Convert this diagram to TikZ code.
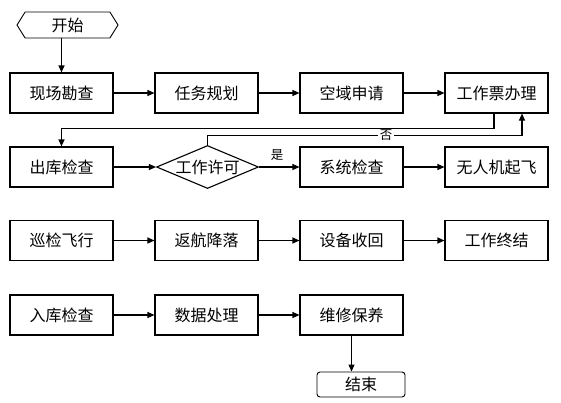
\documentclass[tikz,border=0pt]{standalone}
\usepackage{fontspec}
\setmainfont{Noto Sans CJK SC}
\usetikzlibrary{shapes.geometric,shapes.symbols,arrows.meta}

\begin{document}
\begin{tikzpicture}[x=1pt,y=-1pt,line width=1.1pt,>={Triangle[length=7pt,width=6pt]},
   box/.style={draw,minimum width=103pt,minimum height=40pt,inner sep=0pt,font=\fontsize{16}{18}\selectfont},
   judge/.style={draw,diamond,aspect=2.35,minimum width=102pt,minimum height=43pt,inner sep=0pt,font=\fontsize{16}{18}\selectfont},
   startbox/.style={draw,signal,signal to=west and east,signal pointer angle=116,minimum width=101pt,minimum height=26pt,inner sep=0pt,line width=0.9pt,font=\fontsize{16}{18}\selectfont},
   endbox/.style={draw,rounded corners=3pt,minimum width=88pt,minimum height=25pt,inner sep=0pt,line width=0.9pt,font=\fontsize{16}{18}\selectfont},
   lbl/.style={font=\fontsize{12.5}{14}\selectfont,inner sep=1.5pt}]
   \useasboundingbox (0,0) rectangle (561,402);
   \node[startbox] (start) at (67.5,25) {开始};
   \node[box] (b11) at (61.5,93) {现场勘查};
   \node[box] (b12) at (206.5,93) {任务规划};
   \node[box] (b13) at (351.5,93) {空域申请};
   \node[box] (b14) at (496.5,93) {工作票办理};
   \node[box] (b21) at (61.5,167) {出库检查};
   \node[judge] (permit) at (207.5,167) {工作许可};
   \node[box] (b23) at (351.5,167) {系统检查};
   \node[box] (b24) at (496.5,167) {无人机起飞};
   \node[box] (b31) at (61.5,240.5) {巡检飞行};
   \node[box] (b32) at (206.5,240.5) {返航降落};
   \node[box] (b33) at (351.5,240.5) {设备收回};
   \node[box] (b34) at (496.5,240.5) {工作终结};
   \node[box] (b41) at (61.5,315) {入库检查};
   \node[box] (b42) at (206.5,315) {数据处理};
   \node[box] (b43) at (351.5,315) {维修保养};
   \node[endbox] (end) at (361,384.5) {结束};
   \draw[->] (start.south -| b11) -- (b11.north);
   \draw[->] (b11) -- (b12);
   \draw[->] (b12) -- (b13);
   \draw[->] (b13) -- (b14);
   \draw[->] ([xshift=-2.5pt]b14.south) -- ++(0,15) -| (b21.north);
   \draw[->] (b21) -- (permit);
   \draw[->] (permit) -- node[lbl,above,pos=0.45,yshift=4pt] {是} (b23);
   \draw[->] (permit.north) |- node[lbl,fill=white,pos=0.784] {否} ([xshift=25.5pt,yshift=-22pt]b14.south) -- ([xshift=25.5pt]b14.south);
   \draw[->] (b23) -- (b24);
   \draw[->] (b31) -- (b32);
   \draw[->] (b32) -- (b33);
   \draw[->] (b33) -- (b34);
   \draw[->] (b41) -- (b42);
   \draw[->] (b42) -- (b43);
   \draw[->] (b43.south) -- (b43.south |- end.north);
\end{tikzpicture}
\end{document}
